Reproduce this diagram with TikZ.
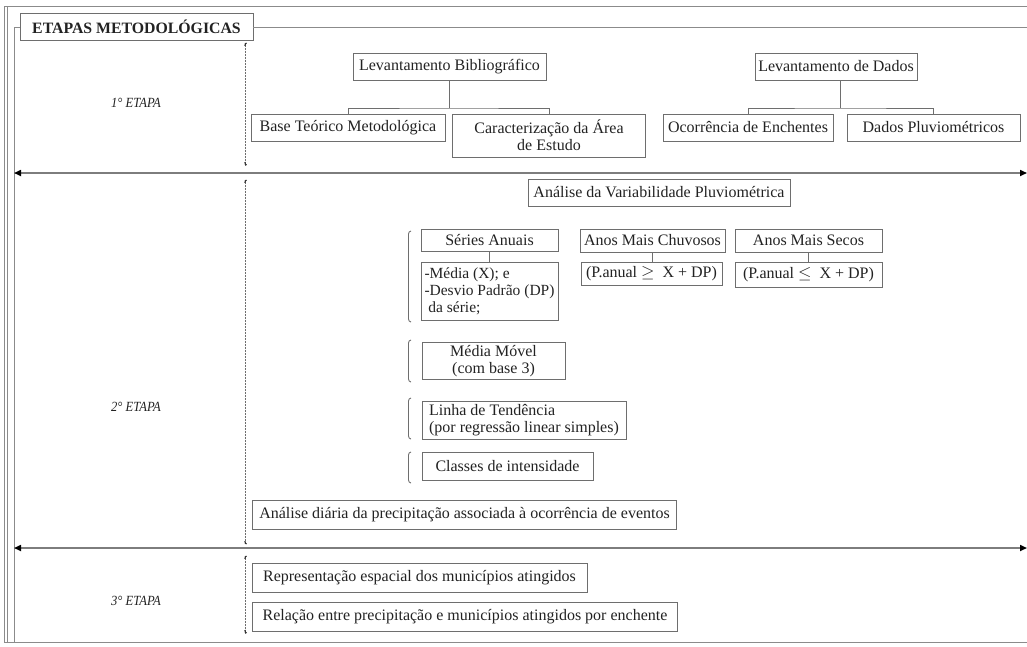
\documentclass[tikz,border=0pt]{standalone}
\usepackage{fontspec}
\setmainfont{Liberation Serif}
\newfontfamily\condfont[FakeStretch=0.9]{Liberation Serif}
\usetikzlibrary{arrows.meta,calc}
\definecolor{ln}{HTML}{6E6E6E}
\definecolor{tx}{HTML}{222222}
\tikzset{
  box/.style={draw=ln, line width=0.9pt, text=tx, inner sep=2pt, align=center, font=\fontsize{16}{17}\selectfont},
  conn/.style={draw=ln, line width=0.9pt},
  frame/.style={draw=ln!80, line width=0.9pt},
  stage/.style={text=tx, font=\condfont\itshape\fontsize{14}{15}\selectfont},
  sep/.style={draw=ln!90, line width=1.6pt, {Triangle[length=7pt,width=6pt,color=black]}-{Triangle[length=7pt,width=6pt,color=black]}},
  dots/.style={draw=ln, line width=0.7pt, dash pattern=on 0.6pt off 0.9pt},
  brk/.style={draw=ln, line width=0.9pt},
  hook/.style={draw=black!80, line width=1.2pt},
}
\begin{document}
\begin{tikzpicture}[x=1pt,y=-1pt]
\useasboundingbox (0,0) rectangle (1027,646);
% outer frame
\draw[frame] (4,6) -- (1030,6);
\draw[frame] (4,6) -- (4,642) -- (1030,642);
\draw[frame] (7,6) -- (7,642);
% inner frame
\node[box, font=\bfseries\fontsize{15.8}{17}\selectfont, minimum width=233, minimum height=27] (title) at (136.5,26.5) {ETAPAS METODOL\'OGICAS};
\coordinate (fl) at (14,27);
\coordinate (fb) at (14,642);
\coordinate (fr) at (1030,27);
\draw[frame] (title.west |- fl) -- (fl) -- (fb);
\draw[frame] (title.east |- fr) -- (fr);

% stage labels
\node[stage] (s1) at (136,103) {1° ETAPA};
\node[stage] (s2) at (136,407) {2° ETAPA};
\node[stage] (s3) at (136,601) {3° ETAPA};

% separators
\coordinate (a1l) at (14,173); \coordinate (a1r) at (1027,173);
\coordinate (a2l) at (14,548); \coordinate (a2r) at (1027,548);
\draw[sep] (a1l) -- (a1r);
\draw[sep] (a2l) -- (a2r);

% dotted brackets
\foreach \t/\b in {43/165, 180/544, 556/633}{
  \draw[dots] (245,\t) -- (245,\b);
  \draw[hook] (246.5,\t) to[out=180,in=90] (245,\t+3);
  \draw[hook] (246.5,\b) to[out=180,in=-90] (245,\b-3);
}

% 1st stage
\node[box, minimum width=193, minimum height=27] (lb) at (449.5,66.5) {Levantamento Bibliogr\'afico};
\node[box, minimum width=194, minimum height=27] (bt) at (348,127.5) {Base Te\'orico Metodol\'ogica};
\node[box, minimum width=193, minimum height=43] (ca) at (549,135.5) {Caracteriza\c{c}\~ao da \'Area\\de Estudo};
\node[box, minimum width=162, minimum height=27] (ld) at (836,66.5) {Levantamento de Dados};
\node[box, minimum width=170, minimum height=27] (oe) at (748,127.5) {Ocorr\^encia de Enchentes};
\node[box, minimum width=173, minimum height=27] (dp) at (933.5,127.5) {Dados Pluviom\'etricos};
\coordinate (j1) at (449,108);
\coordinate (j2) at (840,108);
\draw[conn] (lb.south -| j1) -- (j1);
\draw[conn] (bt.north) |- (j1) -| (ca.north);
\draw[conn] (ld.south -| j2) -- (j2);
\draw[conn] (oe.north) |- (j2) -| (dp.north);

% 2nd stage
\node[box, minimum width=262, minimum height=27] (av) at (659,192.5) {An\'alise da Variabilidade Pluviom\'etrica};
\node[box, minimum width=137, minimum height=22] (sa) at (489.5,240.5) {S\'eries Anuais};
\node[box, minimum width=137, minimum height=58, align=left, inner xsep=1pt, font=\fontsize{15.5}{17}\selectfont] (md) at (489.5,291) {-M\'edia (X); e\\-Desvio Padr\~ao (DP)\\\ da s\'erie;};
\node[box, minimum width=145, minimum height=23] (mc) at (652.5,240.5) {Anos Mais Chuvosos};
\node[box, minimum width=141, minimum height=23] (pc) at (651.5,274) {(P.anual $\geq$\ \ X + DP)};
\node[box, minimum width=147, minimum height=23] (ms) at (808.5,240.5) {Anos Mais Secos};
\node[box, minimum width=147, minimum height=25] (ps) at (808.5,275) {(P.anual $\leq$\ \ X + DP)};
\draw[conn] (sa.south) -- (sa.south |- md.north);
\draw[conn] (mc.south) -- (mc.south |- pc.north);
\draw[conn] (ms.south) -- (ms.south |- ps.north);

\node[box, minimum width=143, minimum height=37] (mm) at (493.5,361) {M\'edia M\'ovel\\(com base 3)};
\node[box, minimum width=204, minimum height=38, align=left] (lt) at (524,420) {Linha de Tend\^encia\\(por regress\~ao linear simples)};
\node[box, minimum width=171, minimum height=28] (ci) at (507.5,466.5) {Classes de intensidade};
\node[box, minimum width=424, minimum height=29] (ad) at (464.5,514.5) {An\'alise di\'aria da precipita\c{c}\~ao associada \`a ocorr\^encia de eventos};

% solid brackets
\foreach \t/\b in {231/322, 340/382, 398/439, 452/483}{
  \draw[brk] (411,\t) to[out=180,in=90] (408.5,\t+3) -- (408.5,\b-3) to[out=-90,in=180] (411,\b);
}

% 3rd stage
\node[box, minimum width=335, minimum height=29] (re) at (419.5,578) {Representa\c{c}\~ao espacial dos munic\'ipios atingidos};
\node[box, minimum width=425, minimum height=29] (rp) at (465,616.5) {Rela\c{c}\~ao entre precipita\c{c}\~ao e munic\'ipios atingidos por enchente};
\end{tikzpicture}
\end{document}
